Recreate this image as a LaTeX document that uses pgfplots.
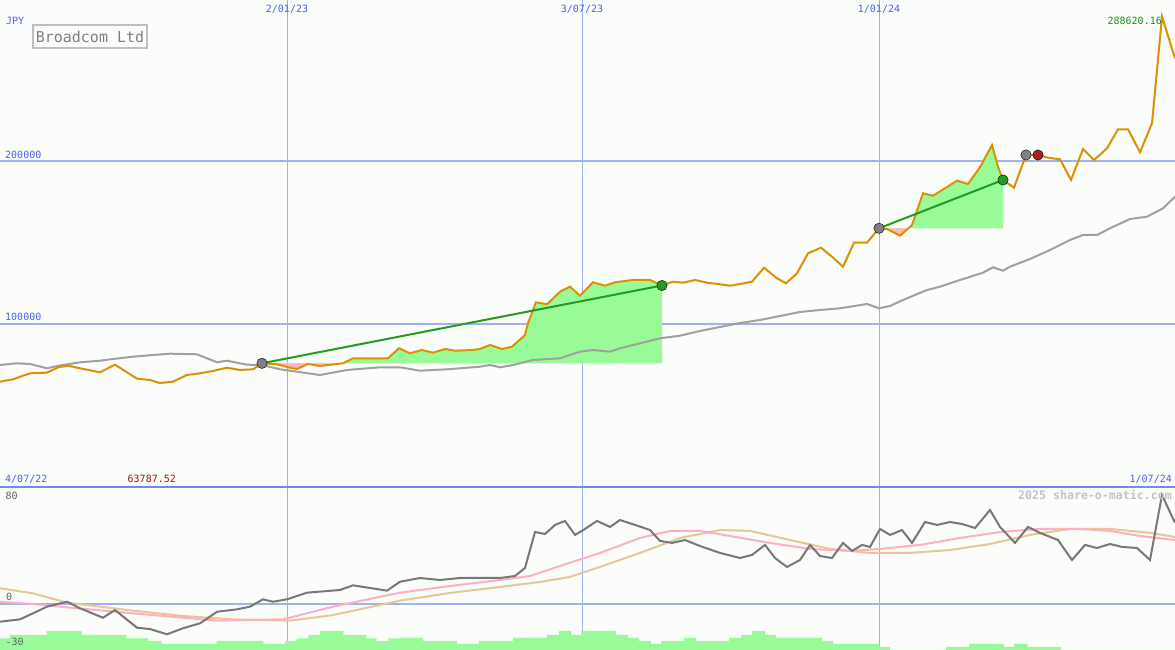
\documentclass[border=0pt]{standalone}
\usepackage{pgfplots}
\pgfplotsset{compat=1.18}
\usepackage{fontspec}
\newfontfamily\dmono{DejaVu Sans Mono}
\newfontfamily\dmonob{DejaVu Sans Mono Bold}
\definecolor{bg}{RGB}{250,253,250}
\definecolor{gridblue}{RGB}{160,176,240}
\definecolor{sepblue}{RGB}{120,136,232}
\definecolor{labelblue}{RGB}{80,96,240}
\definecolor{orangeline}{RGB}{221,145,0}
\definecolor{magrey}{RGB}{160,160,160}
\definecolor{fillgreen}{RGB}{152,251,152}
\definecolor{fillpink}{RGB}{255,182,193}
\definecolor{tradegreen}{RGB}{34,155,34}
\definecolor{markgrey}{RGB}{128,128,128}
\definecolor{markred}{RGB}{170,30,30}
\definecolor{valgreen}{RGB}{34,139,34}
\definecolor{valred}{RGB}{160,20,20}
\definecolor{oscgrey}{RGB}{120,120,120}
\definecolor{oscpink}{RGB}{255,175,195}
\definecolor{osctan}{RGB}{228,200,150}
\definecolor{textgrey}{RGB}{96,96,96}
\definecolor{boxgrey}{RGB}{192,192,192}
\definecolor{wmgrey}{RGB}{195,195,195}
\pgfplotsset{
  panel/.style={
    scale only axis, width=1175pt, xmin=0, xmax=1175,
    axis line style={draw=none}, tick style={draw=none}, major tick length=0pt,
    xtick={287,582,879}, xticklabels={}, yticklabels={},
    scaled ticks=false, grid=major,
    x grid style={draw=gridblue, line width=1pt},
    y grid style={draw=gridblue, line width=2pt},
    axis background/.style={fill=bg}, clip=false,
  }
}
\begin{document}
\begin{tikzpicture}
% ---------------- top panel (price) ----------------
\begin{axis}[panel, at={(0pt,163pt)}, anchor=south west, height=487pt,
  ymin=0, ymax=298774, ytick={100000,200000}]
% trade 1 fills
\addplot[fill=fillgreen, draw=none] coordinates {
(262,75890) (277,75276) (290,73191) (297,72393) (308,75461) (320,74234) (343,75890)
(353,78957) (388,78957) (399,85092) (410,82025) (422,84050) (433,82393) (445,84663)
(455,83620) (472,84050) (480,84663) (490,87117) (502,84663) (512,86074) (525,93252)
(528,100429) (536,113313) (547,112086) (560,119817) (570,122884) (580,117363)
(593,125583) (605,123498) (615,125583) (633,126995) (650,126995) (662,123620)
(662,75890) (262,75890)};
\addplot[fill=fillpink, draw=none] coordinates {
(262,75890) (277,75276) (290,73191) (297,72393) (308,75461) (320,74234) (343,75890)};
% trade 2 fills
\addplot[fill=fillgreen, draw=none] coordinates {
(879,158712) (887,158283) (900,154173) (912,160737) (923,180185) (933,178713)
(945,183252) (957,187915) (968,185891) (980,196136) (992,209817) (998,196504)
(1003,188345) (1003,158712) (879,158712)};
\addplot[fill=fillpink, draw=none] coordinates {
(879,158712) (887,158283) (900,154173) (908,158712)};
% moving average
\addplot[magrey, line width=2pt] coordinates {
(0,74847) (17,75890) (30,75461) (47,72822) (57,74234) (80,76503) (100,77485)
(113,78528) (133,79939) (153,80982) (170,81780) (197,81411) (217,76503) (227,77485)
(247,75031) (262,74847) (280,72209) (297,70737) (320,68712) (347,71780) (380,73436)
(400,73436) (420,71350) (447,72209) (480,73804) (490,74847) (500,73436) (513,74847)
(533,77915) (560,78957) (580,83007) (593,84050) (610,83007) (620,85092) (640,88160)
(660,91227) (680,92823) (700,95706) (720,98160) (740,100614) (760,102455)
(780,104909) (800,107363) (820,108590) (840,109632) (867,112271) (879,109632)
(890,111044) (903,114725) (927,120860) (940,122884) (960,126995) (983,131478)
(993,134786) (1003,132700) (1010,135154) (1030,139878) (1050,145400) (1070,151535)
(1083,154602) (1097,154602) (1110,158712) (1130,164418) (1147,165829) (1163,170980)
(1175,178099)};
% price
\addplot[orangeline, line width=2pt] coordinates {
(0,64602) (13,66074) (30,69755) (47,70123) (58,73436) (68,74418) (80,72822)
(100,70368) (115,75031) (137,66442) (150,65645) (160,63787.52) (173,64602)
(187,68712) (200,69755) (213,71166) (227,73191) (240,71780) (253,72209) (262,75890)
(277,75276) (290,73191) (297,72393) (308,75461) (320,74234) (343,75890) (353,78957)
(388,78957) (399,85092) (410,82025) (422,84050) (433,82393) (445,84663) (455,83620)
(472,84050) (480,84663) (490,87117) (502,84663) (512,86074) (525,93252) (528,100429)
(536,113313) (547,112086) (560,119817) (570,122884) (580,117363) (593,125583)
(605,123498) (615,125583) (633,126995) (650,126995) (662,123620) (673,125952)
(683,125338) (695,126995) (707,125338) (718,124541) (730,123498) (740,124541)
(752,125952) (764,134541) (777,128037) (786,124970) (797,131105) (808,143375)
(821,146811) (832,141289) (843,135154) (854,149878) (867,149878) (879,158712)
(887,158283) (900,154173) (912,160737) (923,180185) (933,178713) (945,183252)
(957,187915) (968,185891) (980,196136) (992,209817) (998,196504) (1003,188345)
(1014,183621) (1026,203682) (1038,203682) (1048,202025) (1060,201044) (1071,188345)
(1083,207363) (1094,200615) (1107,207792) (1118,219449) (1128,219449) (1140,205338)
(1152,223130) (1162,288620.16) (1175,263007)};
% trade lines
\addplot[tradegreen, line width=2pt] coordinates {(262,75890) (662,123620)};
\addplot[tradegreen, line width=2pt] coordinates {(879,158712) (1003,188345)};
% markers
\addplot[only marks, mark=*, mark size=5.2pt, mark options={draw=none, fill=markgrey}]
  coordinates {(262,75890) (879,158712) (1026,203682)};
\addplot[only marks, mark=*, mark size=5.2pt, mark options={draw=none, fill=tradegreen}]
  coordinates {(662,123620) (1003,188345)};
\addplot[only marks, mark=*, mark size=5.2pt, mark options={draw=none, fill=markred}]
  coordinates {(1038,203682)};
\end{axis}
% ---------------- bottom panel (oscillator) ----------------
\begin{axis}[panel, at={(0pt,0pt)}, anchor=south west, height=163pt,
  ymin=-34.5, ymax=87.75, ytick={0}]
\addplot[fill=fillgreen, draw=none, const plot mark left] coordinates {
(0,-34.5) (0,-25.7) (10,-23.25) (46.7,-20.25) (81.7,-23.25) (126.7,-25.7) (148.3,-27.75)
(161.7,-30) (216.7,-27.75) (263.3,-30) (285,-27.75) (296.7,-25.7) (308.3,-23.25)
(320,-20.25) (343.3,-23.25) (366.7,-25.7) (376.7,-27.75) (388.3,-25.7) (400,-25.5)
(423.2,-27.75) (456.8,-30) (479.1,-27.75) (513.2,-25.5) (546.8,-23.25) (559.2,-20.25)
(571,-23.25) (581,-20.25) (616,-23.25) (627.9,-25.5) (639.2,-27.75) (651.1,-30)
(661,-27.75) (684.2,-25.5) (696.1,-27.75) (729.2,-25.5) (741.1,-23.25) (752,-20.25)
(764.8,-23.25) (776.2,-25.5) (822.1,-27.75) (833,-30) (879.5,-32.25) (889.9,-34.5)
(946.2,-32.25) (969,-30) (1004,-32.25) (1014,-30) (1027.3,-32.25) (1060.9,-34.5)
(1175,-34.5)};
\addplot[osctan, line width=2pt] coordinates {
(0,11.8) (33,8.0) (67,1.0) (133,-5.0) (183,-9.0) (233,-11.5) (290,-12.5) (333,-8.3)
(400,2.5) (450,8.3) (500,12.8) (540,16.5) (570,20.3) (600,27.8) (640,38.3) (680,49.5)
(720,55.5) (750,54.8) (790,48) (830,41.3) (870,38.3) (910,38.3) (950,40.5) (990,45)
(1030,51.8) (1070,56.3) (1110,56.3) (1150,53.3) (1175,50.3)};
\addplot[oscpink, line width=2pt] coordinates {
(0,1.7) (33,0) (67,-2.5) (133,-7.0) (217,-12.5) (283,-11.5) (333,-2.0) (400,8.5)
(450,13.5) (500,18) (530,21) (560,28.5) (600,38.3) (640,49.5) (670,54.8) (700,54.8)
(730,51) (770,45.8) (810,41.3) (850,39.8) (880,41.3) (920,44.3) (960,49.5) (1000,54)
(1040,56.3) (1080,56.3) (1110,54.8) (1140,51) (1175,48)};
\addplot[oscgrey, line width=2pt] coordinates {
(0,-13.3) (20,-11.5) (33,-7.0) (47,-2.0) (67,1.7) (80,-3.2) (103,-10.3) (115,-4.5)
(137,-17.8) (150,-18.8) (167,-22.7) (183,-18.2) (200,-14.5) (217,-5.8) (237,-4.0)
(250,-2.0) (263,3.5) (273,1.7) (287,3.5) (307,8.5) (340,10.5) (353,14.0) (387,10.0)
(400,16.7) (420,19.5) (440,18) (460,19.5) (480,19.5) (500,19.5) (515,21) (525,27)
(535,54) (545,52.5) (555,59.3) (565,62.3) (575,51.8) (585,56.3) (597,62.3) (610,57.8)
(620,63) (635,59.3) (650,55.5) (660,47.3) (672,45.8) (685,48) (700,43.5) (720,38.3)
(740,34.5) (752,36.8) (765,44.3) (775,34.5) (787,27.8) (800,33) (810,44.3) (820,36)
(832,34.5) (843,45.8) (852,39.8) (862,44.3) (870,42.8) (880,56.3) (890,51.8)
(902,55.5) (912,45.8) (925,61.5) (937,59.3) (950,61.5) (962,60) (975,57) (990,70.5)
(1000,57.8) (1015,45.8) (1028,57.8) (1040,53.3) (1058,48) (1072,33) (1085,44.3)
(1097,42) (1110,45) (1122,42.8) (1137,42) (1150,33) (1162,81.8) (1175,60.8)};
\end{axis}
% separator between panels
\draw[sepblue, line width=2.2pt] (0pt,163pt) -- (1175pt,163pt);
% ---------------- texts ----------------
\begin{scope}[every node/.style={inner sep=0pt, font=\dmono\fontsize{10}{12}\selectfont}]
\node[anchor=base, text=labelblue] at (287pt,637pt) {2/01/23};
\node[anchor=base, text=labelblue] at (582pt,637pt) {3/07/23};
\node[anchor=base, text=labelblue] at (879pt,637pt) {1/01/24};
\node[anchor=base west, text=labelblue] at (6pt,625pt) {JPY};
\node[anchor=base east, text=valgreen] at (1162pt,625pt) {288620.16};
\node[anchor=base west, text=labelblue] at (5pt,491pt) {200000};
\node[anchor=base west, text=labelblue] at (5pt,329pt) {100000};
\node[anchor=base west, text=labelblue] at (5pt,167pt) {4/07/22};
\node[anchor=base west, text=valred] at (127.5pt,167pt) {63787.52};
\node[anchor=base east, text=labelblue] at (1172pt,167pt) {1/07/24};
\node[anchor=base west, text=textgrey] at (5.5pt,150.5pt) {80};
\node[anchor=base west, text=textgrey] at (6pt,49.5pt) {0};
\node[anchor=base west, text=textgrey] at (5.5pt,4pt) {-30};
\node[anchor=base east, text=wmgrey, font=\dmonob\fontsize{11.6}{13}\selectfont]
  at (1172pt,150.5pt) {2025 share-o-matic.com};
\node[draw=boxgrey, line width=2pt, fill=bg, minimum width=114pt, minimum height=23pt,
  text=markgrey, font=\dmono\fontsize{15}{17}\selectfont] at (90pt,613.5pt) {Broadcom Ltd};
\end{scope}
\pgfresetboundingbox
\path[use as bounding box] (0pt,0pt) rectangle (1175pt,650pt);
\end{tikzpicture}
\end{document}
